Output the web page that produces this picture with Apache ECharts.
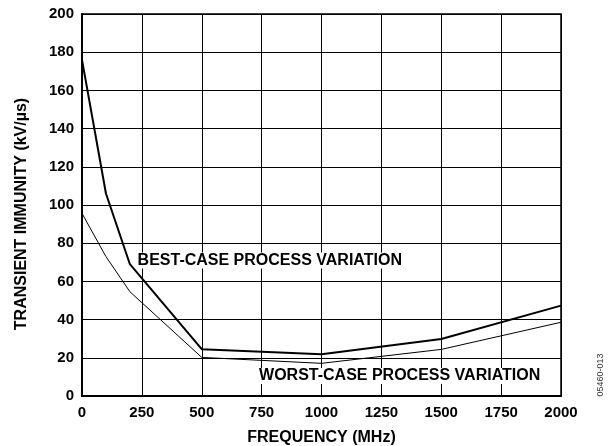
<!DOCTYPE html>
<html><head><meta charset="utf-8">
<script src="https://cdn.jsdelivr.net/npm/echarts@6/dist/echarts.min.js"></script>
<style>html,body{margin:0;padding:0;background:#fff}#c{width:610px;height:446px}</style>
</head><body><div id="c"></div>
<script>
const bestFreq = [0, 100, 200, 500, 1000, 1500, 2000];
const bestVal = [176, 106, 69, 24.5, 21.8, 29.8, 47.3];
const worstFreq = [0, 100, 200, 500, 1000, 1500, 2000];
const worstVal = [95.6, 73, 54.6, 20.2, 17.1, 24.4, 38.6];
const xTicks = [0, 250, 500, 750, 1000, 1250, 1500, 1750, 2000];
const yTicks = [0, 20, 40, 60, 80, 100, 120, 140, 160, 180, 200];
const annotations = [
  {text: 'BEST-CASE PROCESS VARIATION', at: [228, 71]},
  {text: 'WORST-CASE PROCESS VARIATION', at: [735, 10.5]}
];
const FONT = '"Liberation Sans", Arial, sans-serif';
const chart = echarts.init(document.getElementById('c'), null, {renderer: 'canvas'});
const pair = (xs, ys) => xs.map((x, i) => [x, ys[i]]);
chart.setOption({
  animation: false,
  backgroundColor: '#fff',
  grid: {left: 82, right: 49, top: 14, bottom: 50, show: true, borderColor: '#000', borderWidth: 1.5,
    containLabel: false, outerBoundsMode: 'none'},
  xAxis: {
    type: 'value', min: 0, max: 2000, interval: 250,
    name: 'FREQUENCY (MHz)', nameLocation: 'middle', nameGap: 34,
    nameTextStyle: {fontFamily: FONT, fontWeight: 'bold', fontSize: 16, color: '#000'},
    axisLine: {lineStyle: {color: '#000', width: 2}},
    axisTick: {show: false},
    splitLine: {show: true, lineStyle: {color: '#000', width: 1}},
    axisLabel: {fontFamily: FONT, fontWeight: 'bold', fontSize: 15, color: '#000', margin: 9,
      formatter: v => xTicks.includes(v) ? String(v) : ''}
  },
  yAxis: {
    type: 'value', min: 0, max: 200, interval: 20,
    name: 'TRANSIENT IMMUNITY (kV/µs)', nameLocation: 'middle', nameGap: 52,
    nameTextStyle: {fontFamily: FONT, fontWeight: 'bold', fontSize: 16, color: '#000', padding: [0, 18, 0, 0]},
    axisLine: {show: true, lineStyle: {color: '#000', width: 2}},
    axisTick: {show: false},
    splitLine: {show: true, lineStyle: {color: '#000', width: 1}},
    axisLabel: {fontFamily: FONT, fontWeight: 'bold', fontSize: 15, color: '#000', margin: 8,
      formatter: v => yTicks.includes(v) ? String(v) : ''}
  },
  series: [
    {type: 'line', data: pair(bestFreq, bestVal), symbol: 'none', lineStyle: {color: '#000', width: 2}, z: 5},
    {type: 'line', data: pair(worstFreq, worstVal), symbol: 'none', lineStyle: {color: '#000', width: 1}, z: 4}
  ]
});
const g = annotations.map(a => {
  const p = chart.convertToPixel({gridIndex: 0}, a.at);
  return {type: 'text', x: p[0], y: p[1], z: 10,
    style: {text: a.text, fill: '#000', font: 'bold 16px ' + FONT, align: 'left', verticalAlign: 'middle',
      backgroundColor: '#fff', padding: [0, 1, 0, 1]}};
});
g.push({type: 'text', x: 601, y: 375, rotation: Math.PI / 2, z: 10,
  style: {text: '05460-013', fill: '#333', font: '9px ' + FONT, align: 'center', verticalAlign: 'middle'}});
chart.setOption({graphic: g});
</script></body></html>
